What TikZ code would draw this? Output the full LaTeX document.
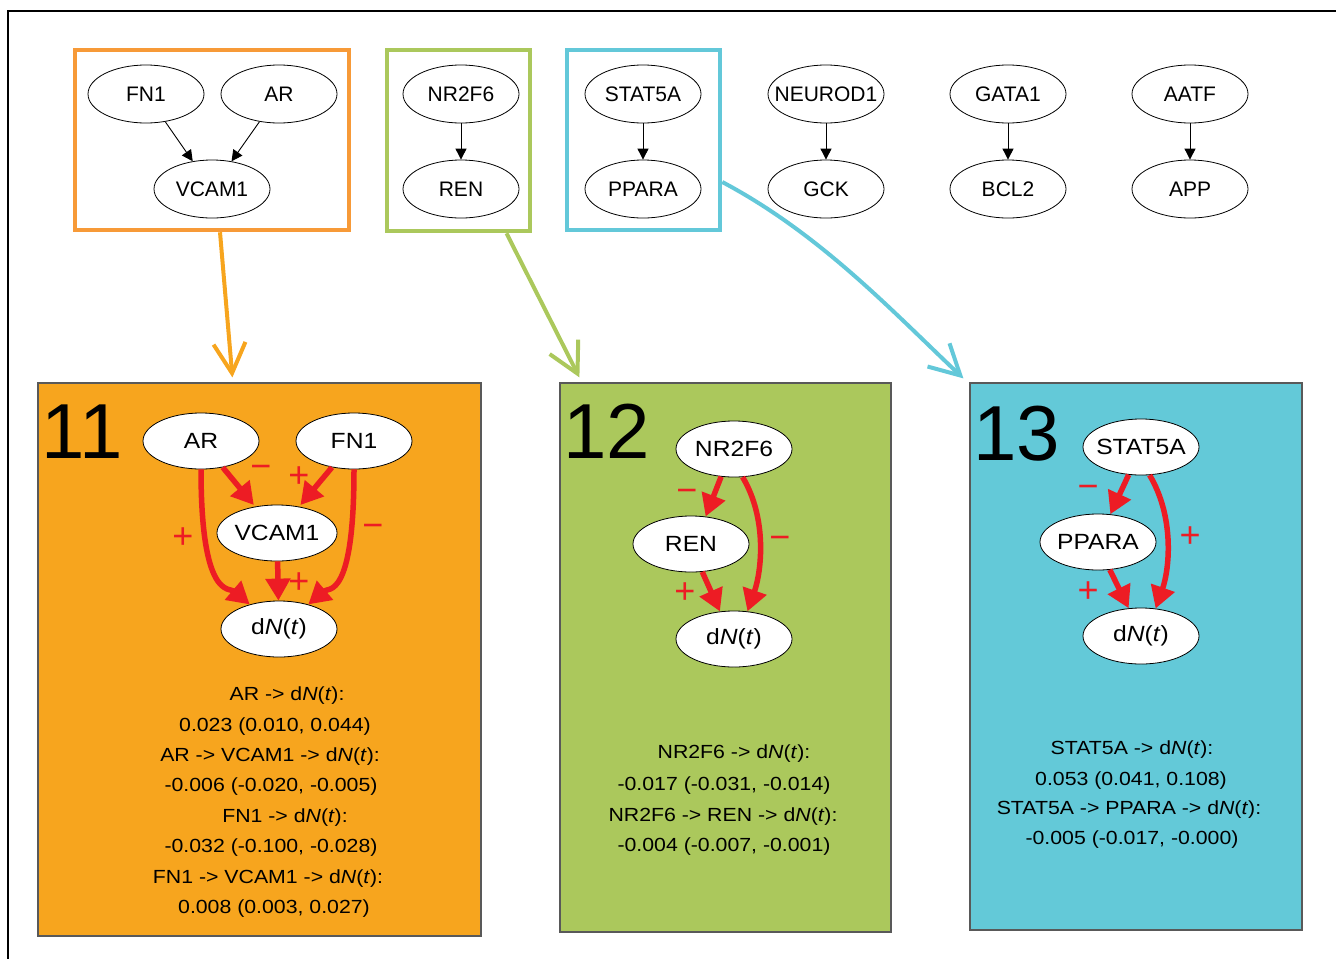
\documentclass[tikz,border=0pt]{standalone}
\usepackage{fontspec}
\setmainfont{Liberation Sans}
\newfontfamily\widesf[FakeStretch=1.12]{Liberation Sans}
\usepackage{tikz}
\usetikzlibrary{shapes.geometric,arrows.meta}
\definecolor{boxorange}{RGB}{247,154,56}
\definecolor{paneorange}{RGB}{247,165,30}
\definecolor{boxgreen}{RGB}{171,200,92}
\definecolor{panegreen}{RGB}{171,200,92}
\definecolor{boxcyan}{RGB}{99,200,217}
\definecolor{panecyan}{RGB}{99,201,216}
\definecolor{effred}{RGB}{237,28,36}
\newcommand{\dNt}{d\textit{N}(\textit{t})}

\begin{document}
\begin{tikzpicture}[x=1pt,y=-1pt,
  gene/.style={ellipse,draw,line width=0.8pt,minimum width=116pt,minimum height=58pt,inner sep=0pt,font=\fontsize{21}{24}\selectfont},
  modgene/.style={ellipse,draw,fill=white,line width=0.8pt,minimum width=116pt,minimum height=56pt,inner sep=0pt,font=\widesf\fontsize{22}{26}\selectfont},
  link/.style={-{Triangle[length=11pt,width=11pt]},line width=0.9pt},
  effect/.style={-{Triangle[length=22pt,width=24pt]},line width=5.5pt,draw=effred},
  sign/.style={text=effred,font=\fontsize{36}{36}\selectfont,inner sep=0pt},
  grpbox/.style={draw=#1,line width=4.5pt,inner sep=0pt},
  pane/.style={draw=black!65,fill=#1,line width=1.2pt,inner sep=0pt},
  moveto/.style={draw=#1,line width=4pt,-{Straight Barb[length=30pt,width=32pt]}},
  result/.style={font=\widesf\fontsize{19}{22}\selectfont,inner sep=0pt},
  panelno/.style={font=\fontsize{78}{78}\selectfont,inner sep=0pt}
]
\useasboundingbox (0,0) rectangle (1336,959);

%Shape: Frame
\draw [line width=1.5pt] (1336,11) -- (8,11) -- (8,959);

%Shape: Group boxes
\node [grpbox=boxorange, minimum width=274pt, minimum height=180pt] (box11) at (212,140) {};
\node [grpbox=boxgreen, minimum width=143pt, minimum height=181pt] (box12) at (458.5,140.5) {};
\node [grpbox=boxcyan, minimum width=153pt, minimum height=180pt] (box13) at (643.5,140) {};

%Shape: Ellipses (all links)
\node [gene] (fn1) at (146,94) {FN1};
\node [gene] (ar) at (279,94) {AR};
\node [gene] (vcam1) at (212,189) {VCAM1};
\node [gene] (nr2f6) at (461,94) {NR2F6};
\node [gene] (ren) at (461,189) {REN};
\node [gene] (stat5a) at (643,94) {STAT5A};
\node [gene] (ppara) at (643,189) {PPARA};
\node [gene] (neurod1) at (826,94) {\makebox[0pt]{NEUROD1}};
\node [gene] (gck) at (826,189) {GCK};
\node [gene] (gata1) at (1008,94) {GATA1};
\node [gene] (bcl2) at (1008,189) {BCL2};
\node [gene] (aatf) at (1190,94) {AATF};
\node [gene] (app) at (1190,189) {APP};

%Straight Lines
\draw [link] (fn1) -- (vcam1);
\draw [link] (ar) -- (vcam1);
\draw [link] (nr2f6) -- (ren);
\draw [link] (stat5a) -- (ppara);
\draw [link] (neurod1) -- (gck);
\draw [link] (gata1) -- (bcl2);
\draw [link] (aatf) -- (app);

%Shape: Panels
\node [pane=paneorange, minimum width=443pt, minimum height=553pt] (p11) at (259.5,659.5) {};
\node [pane=panegreen, minimum width=331pt, minimum height=549pt] (p12) at (725.5,657.5) {};
\node [pane=panecyan, minimum width=332pt, minimum height=547pt] (p13) at (1136,656.5) {};

%Box to panel arrows
\draw [moveto=paneorange] ([xshift=8pt]box11.south) -- ([xshift=195pt,yshift=5pt]p11.north west);
\draw [moveto=boxgreen] ([xshift=48pt]box12.south) -- ([xshift=20pt,yshift=5pt]p12.north west);
\draw [moveto=boxcyan] ([yshift=-42pt]box13.east) .. controls +(98,52) and +(-72,-68) .. ([xshift=-6pt,yshift=4pt]p13.north west);

% Panel 11
\node [panelno] (n11) at (82,432) {11};
\node [modgene] (ar11) at (201,441) {AR};
\node [modgene] (fn11) at (354,441) {FN1};
\node [modgene] (v11) at (277,533) {VCAM1};
\node [modgene] (d11) at (279,629) {\dNt};
\draw [effect, shorten >=2pt] (ar11) -- (v11);
\draw [effect, shorten >=2pt] (fn11) -- (v11);
\draw [effect] (v11) -- (d11);
\draw [effect] (ar11.south) .. controls +(0,131) and +(-20,-17) .. (d11.140);
\draw [effect] (fn11.south) .. controls +(0,131) and +(20,-17) .. (d11.40);
\node [sign] (s11a) at (261,472) {−};
\node [sign] (s11b) at (299,477) {+};
\node [sign] (s11c) at (183,538) {+};
\node [sign] (s11d) at (373,531) {−};
\node [sign] (s11e) at (299,583) {+};

% Text Node
\node [result] (r11a) at (287,696) {AR -> \dNt:};
\node [result] (r11b) at (275,727) {0.023 (0.010, 0.044)};
\node [result] (r11c) at (270,757) {AR -> VCAM1 -> \dNt:};
\node [result] (r11d) at (271,787) {-0.006 (-0.020, -0.005)};
\node [result] (r11e) at (285,818) {FN1 -> \dNt:};
\node [result] (r11f) at (271,848) {-0.032 (-0.100, -0.028)};
\node [result] (r11g) at (268,879) {FN1 -> VCAM1 -> \dNt:};
\node [result] (r11h) at (274,909) {0.008 (0.003, 0.027)};

% Panel 12
\node [panelno] (n12) at (607,431) {12};
\node [modgene] (nr12) at (734,449) {NR2F6};
\node [modgene] (ren12) at (691,544) {REN};
\node [modgene] (d12) at (734,639) {\dNt};
\draw [effect] (nr12.245) -- (ren12.62);
\draw [effect] (ren12.292) -- (d12.117);
\draw [effect] (nr12.287) .. controls +(25,42) and +(14,-40) .. (d12.64);
\node [sign] (s12a) at (687,496) {−};
\node [sign] (s12b) at (780,543) {−};
\node [sign] (s12c) at (685,593) {+};

% Text Node
\node [result] (r12a) at (734,754) {NR2F6 -> \dNt:};
\node [result] (r12b) at (724,786) {-0.017 (-0.031, -0.014)};
\node [result] (r12c) at (723,817) {NR2F6 -> REN -> \dNt:};
\node [result] (r12d) at (724,847) {-0.004 (-0.007, -0.001)};

% Panel 13
\node [panelno] (n13) at (1017,434) {13};
\node [modgene] (st13) at (1141,447) {\makebox[0pt]{STAT5A}};
\node [modgene] (pp13) at (1098,542) {PPARA};
\node [modgene] (d13) at (1141,636) {\dNt};
\draw [effect] (st13.246) -- (pp13.66);
\draw [effect] (pp13.293) -- (d13.114);
\draw [effect] (st13.287) .. controls +(25,42) and +(14,-40) .. (d13.62);
\node [sign] (s13a) at (1088,492) {−};
\node [sign] (s13b) at (1190,537) {+};
\node [sign] (s13c) at (1088,592) {+};

% Text Node
\node [result] (r13a) at (1132,750) {STAT5A -> \dNt:};
\node [result] (r13b) at (1131,781) {0.053 (0.041, 0.108)};
\node [result] (r13c) at (1129,810) {STAT5A -> PPARA -> \dNt:};
\node [result] (r13d) at (1132,840) {-0.005 (-0.017, -0.000)};

\end{tikzpicture}
\end{document}
